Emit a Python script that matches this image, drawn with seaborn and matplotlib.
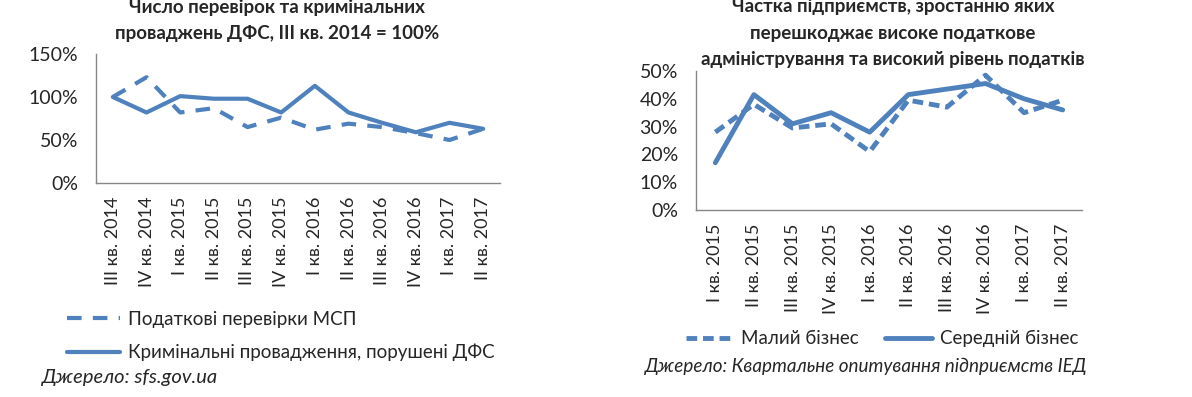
import pandas as pd
import seaborn as sns
import matplotlib.pyplot as plt
import matplotlib.ticker as mticker

sns.set_style('white')
plt.rcParams['font.family'] = ['Lato', 'Open Sans', 'DejaVu Sans']

BLUE = '#4F81BD'

# left chart data
q_left = ['III кв. 2014', 'IV кв. 2014', 'I кв. 2015', 'II кв. 2015', 'III кв. 2015',
          'IV кв. 2015', 'I кв. 2016', 'II кв. 2016', 'III кв. 2016', 'IV кв. 2016',
          'I кв. 2017', 'II кв. 2017']
tax_checks = [100, 123, 82, 87, 65, 76, 62, 69, 65, 58, 50, 63]
criminal = [100, 82, 101, 98, 98, 82, 113, 82, 70, 59, 70, 63]

# right chart data
q_right = ['I кв. 2015', 'II кв. 2015', 'III кв. 2015', 'IV кв. 2015', 'I кв. 2016',
           'II кв. 2016', 'III кв. 2016', 'IV кв. 2016', 'I кв. 2017', 'II кв. 2017']
small_biz = [28, 38, 29.5, 31, 21, 39.5, 37, 48.5, 35, 39.5]
medium_biz = [17, 41.5, 31, 35, 28, 41.5, 43.5, 45.5, 40, 36]

lab_l = ['Податкові перевірки МСП', 'Кримінальні провадження, порушені ДФС']
lab_r = ['Малий бізнес', 'Середній бізнес']

df_l = pd.DataFrame({'x': list(range(len(q_left))) * 2,
                     'v': tax_checks + criminal,
                     's': [lab_l[0]] * len(q_left) + [lab_l[1]] * len(q_left)})
df_r = pd.DataFrame({'x': list(range(len(q_right))) * 2,
                     'v': small_biz + medium_biz,
                     's': [lab_r[0]] * len(q_right) + [lab_r[1]] * len(q_right)})

fig = plt.figure(figsize=(11.92, 3.97), dpi=100)
W, H = 1192, 397
ax1 = fig.add_axes([96 / W, 1 - 183 / H, 404 / W, 129 / H])
ax2 = fig.add_axes([696 / W, 1 - 210 / H, 386 / W, 139 / H])


def style_axis(ax, labels, ymax, ystep):
    n = len(labels)
    ax.set_xlim(-0.5, n - 0.5)
    ax.set_ylim(0, ymax)
    ax.yaxis.set_major_locator(mticker.MultipleLocator(ystep))
    ax.yaxis.set_major_formatter(mticker.FuncFormatter(lambda v, p: f'{v:.0f}%'))
    ax.set_xticks(range(n))
    ax.set_xticklabels(labels, rotation=90, fontsize=13)
    ax.set_xticks([i - 0.5 for i in range(n + 1)], minor=True)
    ax.tick_params(axis='x', which='major', length=0, pad=10)
    ax.tick_params(axis='x', which='minor', length=5, color='#868686', direction='out')
    ax.tick_params(axis='y', length=0, labelsize=14, pad=13)
    for s in ['top', 'right']:
        ax.spines[s].set_visible(False)
    for s in ['left', 'bottom']:
        ax.spines[s].set_color('#868686')
        ax.spines[s].set_linewidth(1)
    ax.set_xlabel('')
    ax.set_ylabel('')


sns.lineplot(data=df_l, x='x', y='v', hue='s', style='s',
             palette=[BLUE, BLUE], dashes=[(3.5, 2.7), ''], linewidth=3,
             ax=ax1, legend=False)
sns.lineplot(data=df_r, x='x', y='v', hue='s', style='s',
             palette=[BLUE, BLUE], dashes=[(2.2, 1.2), ''], linewidth=3.5,
             ax=ax2, legend=False)
style_axis(ax1, q_left, 150, 50)
style_axis(ax2, q_right, 50, 10)

fig.text(277 / W, 1 - 20.5 / H, 'Число перевірок та кримінальних\nпроваджень ДФС, III кв. 2014 = 100%',
         ha='center', va='center', fontsize=13.5, fontweight='bold', linespacing=1.7)
fig.text(893 / W, 1 - 33 / H, 'Частка підприємств, зростанню яких\nперешкоджає високе податкове\nадміністрування та високий рівень податків',
         ha='center', va='center', fontsize=13.5, fontweight='bold', linespacing=1.7)

h1 = ax1.get_lines()
fig.legend(h1[:2], lab_l, loc='upper left', bbox_to_anchor=(67 / W, 1 - 311 / H),
           frameon=False, fontsize=13.5, handlelength=2.8, handletextpad=0.45,
           labelspacing=0.85, borderpad=0, borderaxespad=0)
h2 = ax2.get_lines()
fig.legend(h2[:2], lab_r, loc='upper left', bbox_to_anchor=(686 / W, 1 - 330 / H),
           frameon=False, fontsize=13.5, ncol=2, handlelength=2.5, handletextpad=0.45,
           columnspacing=1.4, borderpad=0, borderaxespad=0)

fig.text(42 / W, 1 - 378 / H, 'Джерело: sfs.gov.ua', fontsize=14.5, style='italic', va='center')
fig.text(866 / W, 1 - 366 / H, 'Джерело: Квартальне опитування підприємств ІЕД', fontsize=13.6,
         style='italic', va='center', ha='center')

fig.savefig('out.png', dpi=100)
